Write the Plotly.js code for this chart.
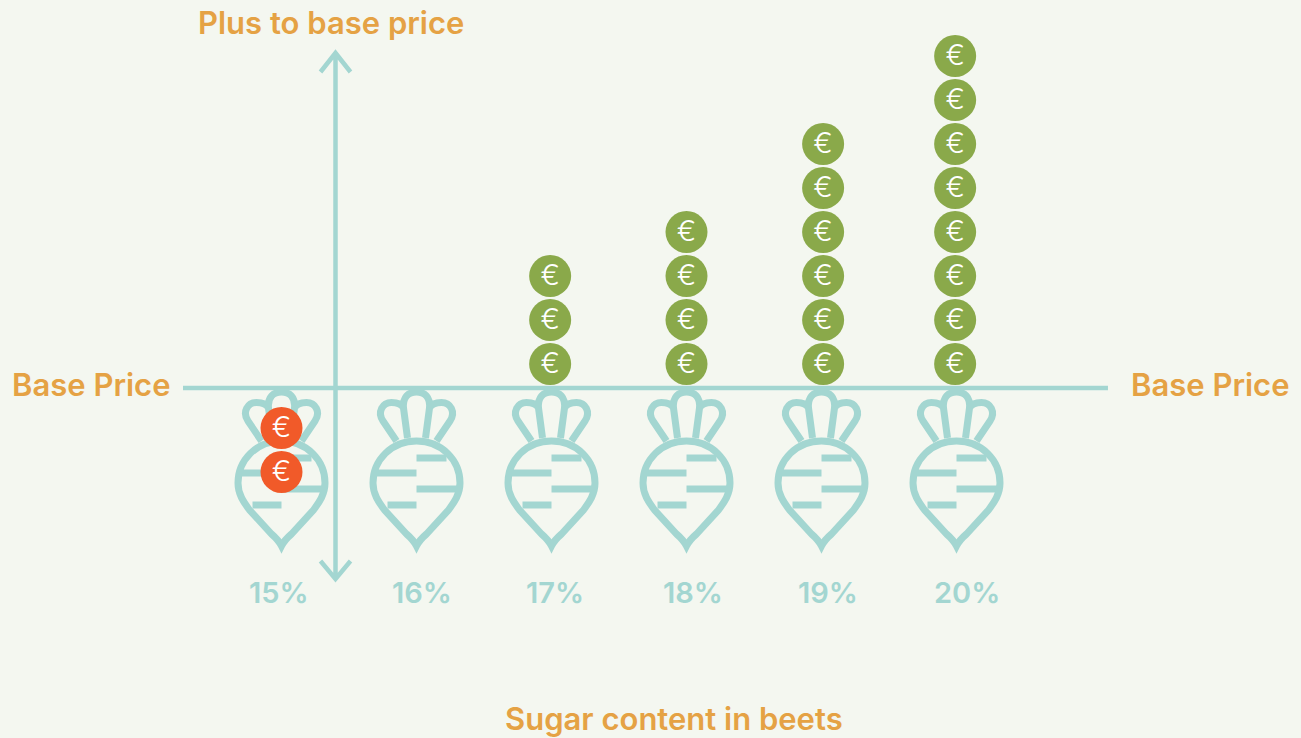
<!DOCTYPE html>
<html><head><meta charset="utf-8">
<script src="https://cdn.plot.ly/plotly-3.0.1.min.js"></script>
<style>html,body{margin:0;padding:0;background:#f4f7f0;overflow:hidden}#c{width:1301px;height:738px}</style>
</head><body><div id="c"></div>
<script>
// Data
var categories = ['15%','16%','17%','18%','19%','20%'];
var euroCounts = [-2, 0, 3, 4, 6, 8];
var xTitle = 'Sugar content in beets';
var yTitle = 'Plus to base price';
var baseLabel = 'Base Price';

// Styling
var TEAL='#a3d6d1', ORANGE='#e5a244', GREEN='#8aa94a', RED='#f15a29', BG='#f4f7f0';
var FONT='Inter, sans-serif';
var labelShift=[-3,5,3,6,6,10];
var coinNudge=[0,0,-0.01,0,0.012,-0.01];
var glyphDrop=0.05;

var beetOutline='M0,-53 C-25,-53 -43.5,-72 -43.5,-95 C-43.5,-106 -38,-114 -32,-122 L-10,-146 Q-3,-152 0,-158 Q3,-152 10,-146 L32,-122 C38,-114 43.5,-106 43.5,-95 C43.5,-72 25,-53 0,-53 Z';
var beetBars='M-40,-85 L0,-85 M0,-70 L30,-70 M0,-101 L42,-101 M-29,-117 L0,-117';
var beetCrown='M-9,-50 L-13,-20 C-14,-9 -8,-4 0,-4 C8,-4 14,-9 13,-20 L9,-50 '+
 'M-20,-53 L-33.5,-33 C-39.5,-24 -34,-14.5 -25,-14.5 C-19,-14.5 -15,-16 -13,-20 '+
 'M20,-53 L33.5,-33 C39.5,-24 34,-14.5 25,-14.5 C19,-14.5 15,-16 13,-20';

function iconShape(path,xa,ya,w){
  return {type:'path',layer:'below',xref:'x',yref:'y',xsizemode:'pixel',ysizemode:'pixel',
    xanchor:xa,yanchor:ya,path:path,line:{color:TEAL,width:w},fillcolor:'rgba(0,0,0,0)'};
}
var shapes=[];
shapes.push({type:'line',layer:'below',xref:'x',yref:'y',x0:-0.7296,x1:6.122,y0:0,y1:0,line:{color:TEAL,width:4.5}});
shapes.push(iconShape('M0,334 L0,-190 M-15,316 L0,335 L15,316 M-15,-173 L0,-191 L15,-173',0.4,0,4.5));
categories.forEach(function(c,i){
  shapes.push(iconShape(beetOutline,i,0,7));
  shapes.push(iconShape(beetBars,i,0,7));
  shapes.push(iconShape(beetCrown,i,0,7));
});

var gx=[],gy=[],rx=[],ry=[];
euroCounts.forEach(function(n,i){
  for(var k=1;k<=Math.abs(n);k++){
    if(n>0){gx.push(i+coinNudge[i]);gy.push(k-0.455);}
    else{rx.push(i+coinNudge[i]);ry.push(-k+0.091);}
  }
});
function coins(x,y,col){
  return {type:'scatter',mode:'markers',x:x,y:y,hoverinfo:'skip',
    marker:{size:42,color:col,line:{width:0}},showlegend:false};
}
function glyphs(x,y){
  return {type:'scatter',mode:'text',x:x,y:y.map(function(v){return v-glyphDrop;}),hoverinfo:'skip',
    text:x.map(function(){return '€';}),textposition:'middle center',
    textfont:{family:FONT,size:29,color:'#ffffff',weight:300},showlegend:false};
}
function label(text,x,y,size,shift){
  return {xref:'x',yref:'paper',x:x,y:y,text:text,showarrow:false,xshift:shift||0,
    xanchor:'center',yanchor:'middle',font:{family:FONT,size:size,color:ORANGE,weight:600}};
}
var anns=[
  label(yTitle,0.364,1-22/738,31),
  label(baseLabel,-1.41,1-384/738,31),
  label(baseLabel,6.878,1-384/738,31),
  label(xTitle,2.907,1-718/738,31)
];
categories.forEach(function(c,i){
  var a=label(c,i,1-592/738,29,labelShift[i]);
  a.font.color=TEAL; anns.push(a);
});

Plotly.newPlot('c',[coins(gx,gy,GREEN),coins(rx,ry,RED),glyphs(gx,gy),glyphs(rx,ry)],{
  width:1301,height:738,margin:{l:0,r:0,t:0,b:0},
  paper_bgcolor:BG,plot_bgcolor:BG,showlegend:false,
  xaxis:{range:[-281.5/135,(1301-281.5)/135],visible:false,fixedrange:true},
  yaxis:{range:[-350/44,388/44],visible:false,fixedrange:true},
  shapes:shapes,annotations:anns
},{displayModeBar:false,staticPlot:true});
</script></body></html>
